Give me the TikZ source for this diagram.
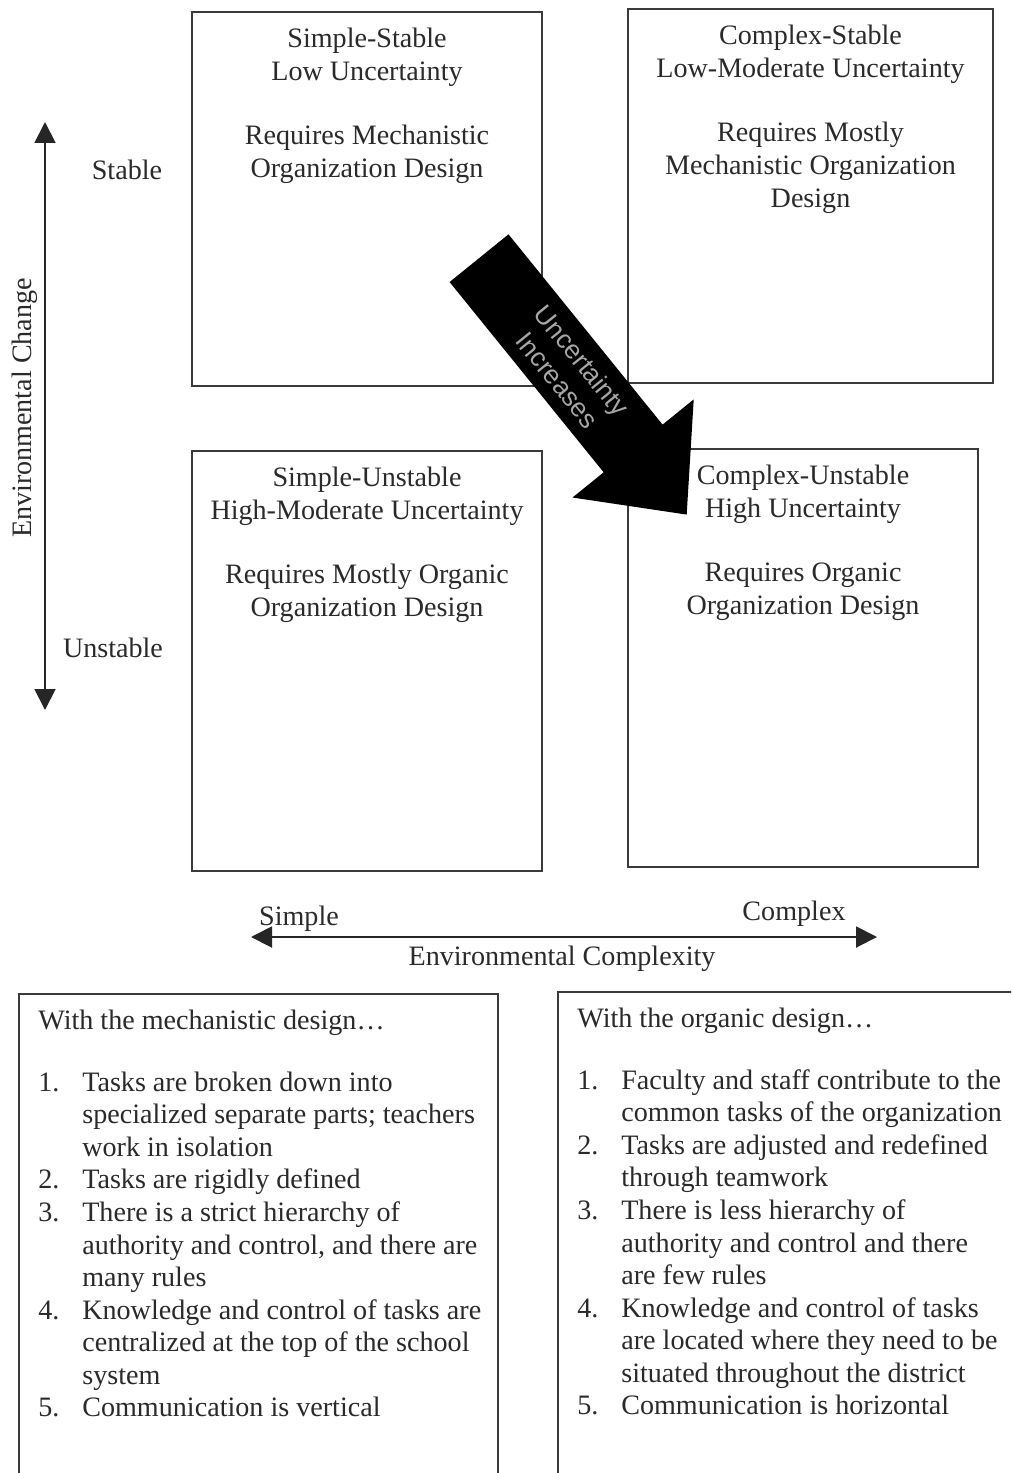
\documentclass[tikz,border=0pt]{standalone}
\usepackage{fontspec}
\setmainfont{Liberation Serif}
\setsansfont{Liberation Sans}
\usepackage{array}
\usetikzlibrary{arrows.meta,positioning,shapes.arrows}
\definecolor{envink}{HTML}{2A2A2A}
\definecolor{envline}{HTML}{3A3A3A}
\definecolor{envarrowtxt}{HTML}{A6A6A6}
\newcommand{\quadfont}{\fontsize{16}{18.8}\selectfont}
\newcommand{\listfont}{\fontsize{16}{18.5}\selectfont}
\newcommand{\arrowfont}{\sffamily\fontsize{15}{18}\selectfont}

\begin{document}
\begin{tikzpicture}[x=0.02cm,y=-0.02cm,
  quad/.style={draw=envline,line width=1.2pt,anchor=north west,inner sep=0pt},
  qtext/.style={align=center,inner sep=0pt,text=envink,font=\quadfont},
  lab/.style={inner sep=0pt,text=envink,font=\quadfont},
  axis/.style={draw=black!85,line width=1.1pt,{Triangle[length=0.42cm,width=0.42cm]}-{Triangle[length=0.42cm,width=0.42cm]}},
  ltext/.style={anchor=north west,inner sep=0pt,text=envink,font=\listfont}]
  \clip (0,0) rectangle (1011,1473);
  \fill[white] (0,0) rectangle (1011,1473);

  % the four environments
  \node[quad,minimum width=7cm,minimum height=7.48cm] (ss) at (191,11) {};
  \node[quad,minimum width=7.3cm,minimum height=7.48cm] (cs) at (627,8) {};
  \node[quad,minimum width=7cm,minimum height=8.4cm] (su) at (191,450) {};
  \node[quad,minimum width=7cm,minimum height=8.36cm] (cu) at (627,448) {};

  \node[qtext,below=0.34cm of ss.north] (sst) {Simple-Stable\\Low Uncertainty\\[17.6pt]Requires Mechanistic\\Organization Design};
  \node[qtext,below=0.34cm of cs.north] (cst) {Complex-Stable\\Low-Moderate Uncertainty\\[17.6pt]Requires Mostly\\Mechanistic Organization\\Design};
  \node[qtext,below=0.34cm of su.north] (sut) {Simple-Unstable\\High-Moderate Uncertainty\\[17.6pt]Requires Mostly Organic\\Organization Design};
  \node[qtext,below=0.34cm of cu.north] (cut) {Complex-Unstable\\High Uncertainty\\[17.6pt]Requires Organic\\Organization Design};

  % axes
  \coordinate (chtop) at (45,122);
  \coordinate (chbot) at (45,710);
  \draw[axis] (chtop) -- (chbot);
  \node[lab] (stable) at (127,170) {Stable};
  \node[lab] (unstable) at (113,648) {Unstable};
  \node[lab,rotate=90] (change) at (25,408) {Environmental Change};

  \coordinate (cxleft) at (251,937);
  \coordinate (cxright) at (877,937);
  \draw[axis] (cxleft) -- (cxright);
  \node[lab] (simple) at (299,919) {Simple};
  \node[lab] (complex) at (794,914) {Complex};
  \node[lab] (complexity) at (562,959) {Environmental Complexity};

  % uncertainty arrow
  \node[single arrow,fill=black,anchor=tip,rotate=-51,minimum height=6.6cm,minimum width=3.12cm,
    single arrow head extend=0.77cm,single arrow tip angle=85,inner xsep=1pt,inner ysep=6pt,
    align=center,text=envarrowtxt,font=\arrowfont] (unc) at (687,515) {Uncertainty\\Increases};

  % design lists
  \node[quad,minimum width=9.58cm,minimum height=11cm] (mech) at (18,993) {};
  \node[quad,minimum width=9.8cm,minimum height=11cm] (orga) at (557,991) {};

  \node[ltext,below right=0.26cm and 0.4cm of mech.north west] (mecht) {%
    \begin{tabular}{@{}p{0.88cm}@{}l@{}}
    \multicolumn{2}{@{}l@{}}{With the mechanistic design…}\\[17pt]
    1. & Tasks are broken down into\\
       & specialized separate parts; teachers\\
       & work in isolation\\
    2. & Tasks are rigidly defined\\
    3. & There is a strict hierarchy of\\
       & authority and control, and there are\\
       & many rules\\
    4. & Knowledge and control of tasks are\\
       & centralized at the top of the school\\
       & system\\
    5. & Communication is vertical
    \end{tabular}};
  \node[ltext,below right=0.26cm and 0.4cm of orga.north west] (orgat) {%
    \begin{tabular}{@{}p{0.88cm}@{}l@{}}
    \multicolumn{2}{@{}l@{}}{With the organic design…}\\[17pt]
    1. & Faculty and staff contribute to the\\
       & common tasks of the organization\\
    2. & Tasks are adjusted and redefined\\
       & through teamwork\\
    3. & There is less hierarchy of\\
       & authority and control and there\\
       & are few rules\\
    4. & Knowledge and control of tasks\\
       & are located where they need to be\\
       & situated throughout the district\\
    5. & Communication is horizontal
    \end{tabular}};
\end{tikzpicture}
\end{document}
